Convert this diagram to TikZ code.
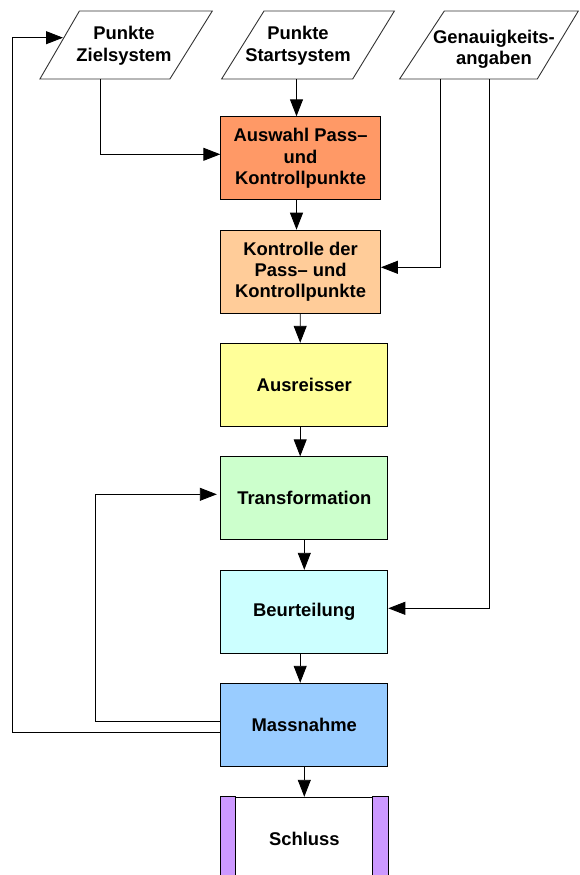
\documentclass[tikz,border=0pt]{standalone}
\usepackage{fontspec}
\setmainfont{Liberation Sans}
\usetikzlibrary{arrows.meta}
\definecolor{cAuswahl}{HTML}{FF9966}
\definecolor{cKontrolle}{HTML}{FFCC99}
\definecolor{cAusreisser}{HTML}{FFFF99}
\definecolor{cTransf}{HTML}{CCFFCC}
\definecolor{cBeurt}{HTML}{CCFFFF}
\definecolor{cMassn}{HTML}{99CCFF}
\definecolor{cSchluss}{HTML}{CC99FF}
\tikzset{
  box/.style={draw, line width=1pt, minimum height=83pt, inner sep=0pt, align=center},
  narrowbox/.style={box, minimum width=159.6pt},
  widebox/.style={box, minimum width=167pt},
  arr/.style={-{Triangle[length=17pt,width=13pt]}, line width=0.9pt},
  io/.style={draw=black!80, line width=0.9pt},
  txt/.style={align=center, inner sep=0pt}
}
\begin{document}
\begin{tikzpicture}[x=1pt,y=-1pt,font=\fontsize{18.4}{21.3}\selectfont\bfseries]
\useasboundingbox (0,0) rectangle (579,875);
\clip (0,0) rectangle (579,875);
% input parallelograms
\draw[io] (39.9,79) -- (79.4,11) -- (212.3,11) -- (169.9,79) -- cycle;
\draw[io] (221.6,79) -- (264,11) -- (394.4,11) -- (352.7,79) -- cycle;
\draw[io] (399.6,79) -- (444.3,11) -- (578.3,11) -- (537.3,79) -- cycle;
\node[txt] (ziel) at (124,45.8) {Punkte\\Zielsystem};
\node[txt] (start) at (298,45.8) {Punkte\\Startsystem};
\node[txt] (genau) at (494,49.4) {Genauigkeits-\\angaben};
\coordinate (zielout) at (100.4,79);
\coordinate (startout) at (296.5,79);
\coordinate (genauA) at (440.2,79);
\coordinate (genauB) at (489.7,79);
\coordinate (zielin) at (63,37.7);
% process boxes
\node[narrowbox, fill=cAuswahl] (auswahl) at (300.6,158.3) {Auswahl Pass–\\und\\Kontrollpunkte};
\node[narrowbox, fill=cKontrolle] (kontrolle) at (300.6,271.7) {Kontrolle der\\Pass– und\\Kontrollpunkte};
\node[widebox, fill=cAusreisser] (ausreisser) at (304.3,384.8) {Ausreisser};
\node[widebox, fill=cTransf] (transf) at (304.3,498.3) {Transformation};
\node[widebox, fill=cBeurt] (beurt) at (304.3,611.8) {Beurteilung};
\node[widebox, fill=cMassn] (massn) at (304.3,724.8) {Massnahme};
\node[widebox, fill=white] (schluss) at (304.3,838.8) {Schluss};
\draw[line width=1pt, fill=cSchluss] (schluss.north west) rectangle ([xshift=15.5pt]schluss.south west);
\draw[line width=1pt, fill=cSchluss] (schluss.north east) rectangle ([xshift=-15.5pt]schluss.south east);
% connectors
\draw[arr] (startout) -- (startout |- auswahl.north);
\draw[arr] (zielout) |- ([yshift=4pt]auswahl.west);
\draw[arr] ([xshift=-4.1pt]auswahl.south) -- ([xshift=-4.1pt]kontrolle.north);
\draw[arr] (genauA) |- ([yshift=4.4pt]kontrolle.east);
\draw[arr] ([xshift=-0.4pt]kontrolle.south) -- ([xshift=-4.1pt]ausreisser.north);
\draw[arr] ([xshift=-4.1pt]ausreisser.south) -- ([xshift=-4.1pt]transf.north);
\draw[arr] (transf.south) -- (beurt.north);
\draw[arr] (genauB) |- ([yshift=3.5pt]beurt.east);
\draw[arr] ([xshift=-4.1pt]beurt.south) -- ([xshift=-4.1pt]massn.north);
\draw[arr] (massn.south) -- (schluss.north);
\draw[arr, shorten >=3.5pt] ([yshift=3.5pt]massn.west) -- ++(-124.4,0) |- ([yshift=4pt]transf.west);
\draw[arr] ([yshift=-7.5pt]massn.west) -- ++(-207.5,0) |- (zielin);
\end{tikzpicture}
\end{document}
